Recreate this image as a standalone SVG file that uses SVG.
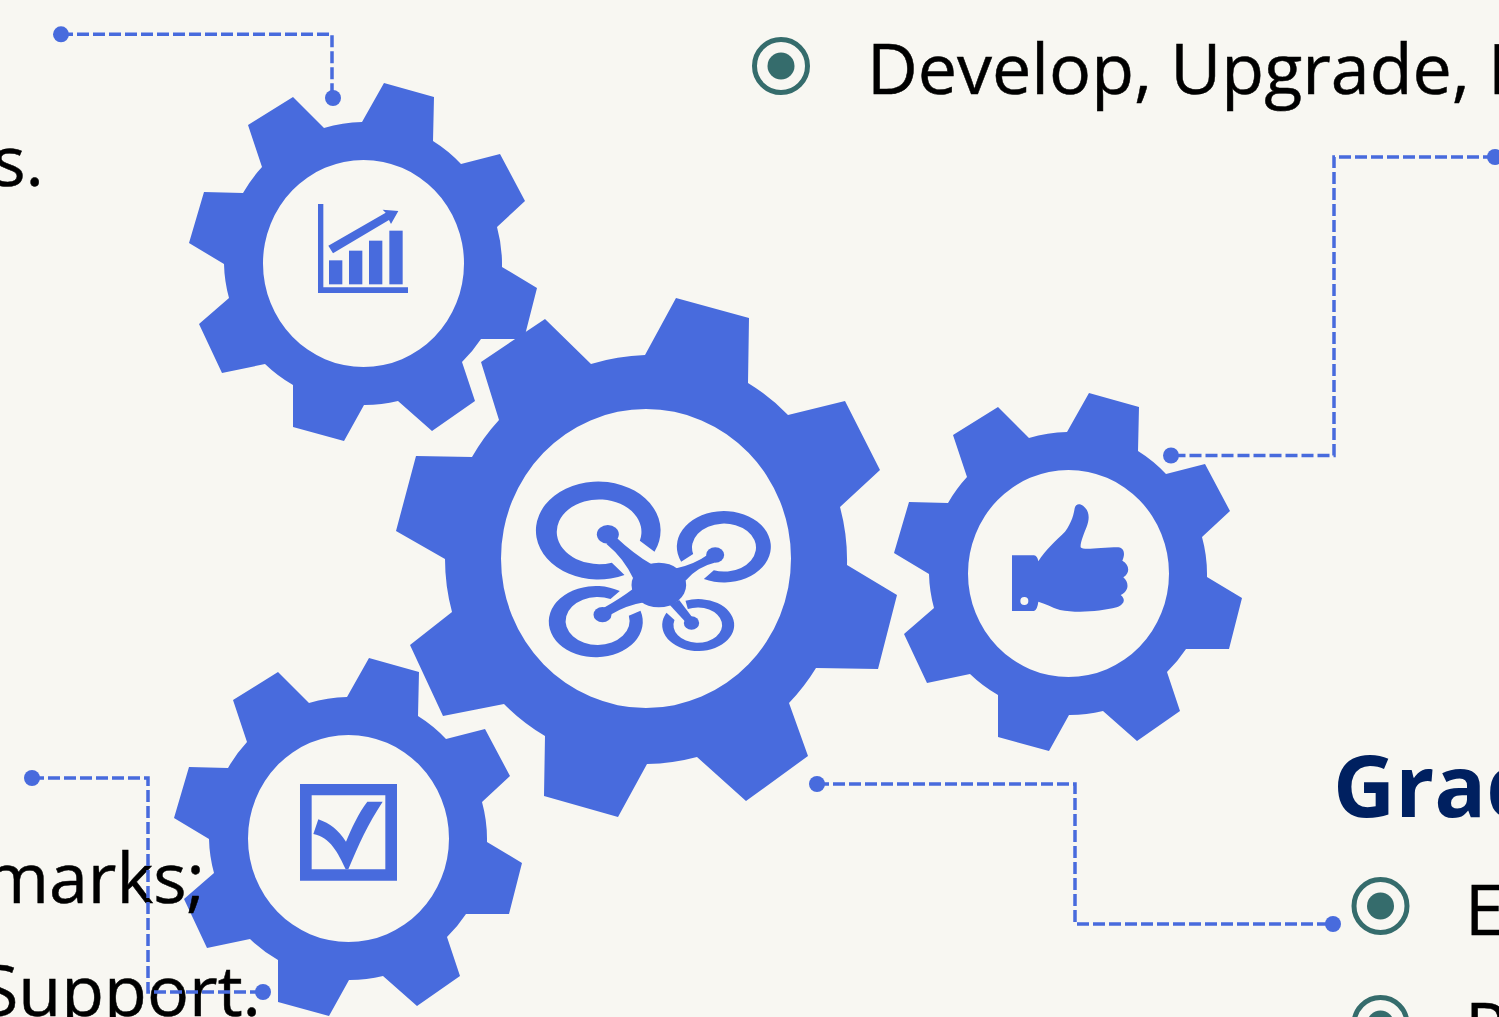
<svg xmlns="http://www.w3.org/2000/svg" xmlns:xlink="http://www.w3.org/1999/xlink" width="1499" height="1017" viewBox="0 0 1499 1017">
<style>
.bl{fill:#486bdd}
.t{font-family:"Open Sans","Noto Sans",sans-serif;font-size:70px;fill:#000;stroke:#000;stroke-width:.5}
.h{font-family:"Open Sans","Noto Sans",sans-serif;font-size:86px;font-weight:700;fill:#002060}
.c{fill:none;stroke:#486bdd;stroke-width:3.500;stroke-dasharray:12 4}
.d{fill:#486bdd}
.r{fill:none;stroke:#356c6c;stroke-width:5}
.ri{fill:#356c6c}
</style>
<defs>
<path id="gear" fill-rule="evenodd" d="M293 97L324 128A140 140 0 0 1 362 122L384 83L434 97L433 141A140 140 0 0 1 461 164L500 154L525 201L497 227A140 140 0 0 1 502 267L537 288L524 339L481 339A140 140 0 0 1 462 362L475 401L432 431L398 401A140 140 0 0 1 364 405L344 441L293 427L293 385A140 140 0 0 1 265 364L222 373L199 324L229 298A140 140 0 0 1 224 264L189 243L204 192L243 193A140 140 0 0 1 262 167L248 125ZM263 263.500A100.500 103.500 0 1 0 464 263.500A100.500 103.500 0 1 0 263 263.500Z"/>
</defs>
<rect width="1499" height="1017" fill="#f8f7f2"/>
<g id="gear-chart">
<use xlink:href="#gear" href="#gear" class="bl"/>
<g class="bl" transform="translate(290 180) scale(.33333)">
<path d="M84 72H100V322H354V339H84Z"/>
<rect x="117" y="241" width="40" height="72"/><rect x="177" y="212" width="40" height="101"/><rect x="237" y="182" width="40" height="131"/><rect x="298" y="152" width="40" height="161"/>
<path d="M115 197L287 98L278 89L325 93L303 132L297 120L129 220Z"/>
</g>
</g>
<g id="gear-drone">
<path class="bl" fill-rule="evenodd" d="M545 319L591 364A204 204 0 0 1 645 355L676 298L749 318L748 383A204 204 0 0 1 788 415L845 401L880 470L840 507A204 204 0 0 1 847 565L897 595L878 669L816 668A204 204 0 0 1 789 703L808 756L746 801L697 757A204 204 0 0 1 647 764L618 817L544 796L545 736A204 204 0 0 1 504 704L443 716L410 645L452 612A204 204 0 0 1 445 559L396 531L416 456L472 457A204 204 0 0 1 499 420L481 362ZM501 558.500A145 149.500 0 1 0 791 558.500A145 149.500 0 1 0 501 558.500Z"/>
<g class="bl" transform="translate(500.500 450) scale(.33333)">
<path d="M462 305A187 147 0 1 0 372 375L334 338A127 97 0 1 1 418 272Z"/>
<path d="M542 335A141 107 0 1 1 610 387L640 361A96 72 0 1 0 578 312Z"/>
<path d="M358 423A141 107 0 1 0 420 482L385 497A96 72 0 1 1 330 447Z"/>
<path d="M555 452A108 78 0 1 1 498 488L522 510A73 53 0 1 0 562 477Z"/>
<ellipse cx="475" cy="405" rx="82" ry="67"/>
<ellipse cx="322" cy="253" rx="33" ry="28"/><ellipse cx="644" cy="315" rx="27" ry="23"/><ellipse cx="306" cy="494" rx="27" ry="23"/><ellipse cx="573" cy="519" rx="23" ry="20"/>
<path d="M345 260Q400 312 452 342L398 385Q370 325 318 282Z"/>
<path d="M522 356Q580 345 625 312L642 338Q590 350 555 392Z"/>
<path d="M398 416Q360 445 310 473L330 494Q380 465 432 457Z"/>
<path d="M508 465L553 514L574 500L536 450Z"/>
</g>
</g>
<g id="gear-thumb">
<use xlink:href="#gear" href="#gear" class="bl" transform="translate(705 310)"/>
<path class="bl" fill-rule="evenodd" transform="translate(990 490) scale(.33333)" d="M66 196H132Q142 198 145 214C165 180 200 150 225 125C245 100 252 70 254 55C257 40 270 40 280 48C298 62 300 85 290 110C282 130 270 160 272 172C280 182 330 172 385 172C405 175 405 195 397 212C420 225 420 250 400 262C420 280 415 305 392 315C410 330 400 345 380 352C330 365 260 370 210 360C185 352 165 340 145 335Q142 360 132 363H66ZM91 333A12 12 0 1 0 115 333A12 12 0 1 0 91 333Z"/>
</g>
<g id="gear-check">
<use xlink:href="#gear" href="#gear" class="bl" transform="translate(-15 575)"/>
<g class="bl" transform="translate(280 770) scale(.33333)">
<path fill-rule="evenodd" d="M60 42H351V332H60ZM95 76V298H316V76Z"/>
<path d="M115 148L100 192C150 200 175 250 197 298H205C235 225 265 160 308 95H262C235 130 215 175 198 215C175 180 150 160 115 148Z"/>
</g>
</g>
<g id="labels">
<text class="t" x="867" y="94">Develop, Upgrade, I</text>
<text class="t" x="44" y="186" text-anchor="end">s.</text>
<text class="t" x="205" y="903" text-anchor="end">marks;</text>
<text class="t" x="261" y="1016" text-anchor="end">Support.</text>
<text class="h" x="1333" y="817">Grad</text>
<text class="t" x="1465" y="935">E</text>
<text class="t" x="1465" y="1053">P</text>
</g>
<g id="bullets">
<circle class="r" cx="781" cy="66" r="26.500"/><circle class="ri" cx="781" cy="66" r="13.500"/>
<circle class="r" cx="1380.500" cy="906" r="26.500"/><circle class="ri" cx="1380.500" cy="906" r="13.500"/>
<circle class="r" cx="1380.500" cy="1024" r="26.500"/><circle class="ri" cx="1380.500" cy="1024" r="13.500"/>
</g>
<g id="connectors">
<path class="c" d="M61 34.300H332V98"/>
<circle class="d" cx="61" cy="34.300" r="8"/><circle class="d" cx="333" cy="98" r="8"/>
<path class="c" d="M1495 157H1334V455.500H1171"/>
<circle class="d" cx="1495" cy="157" r="8"/><circle class="d" cx="1171" cy="455.500" r="8"/>
<path class="c" d="M817 784H1075V924H1333"/>
<circle class="d" cx="817" cy="784" r="8"/><circle class="d" cx="1333" cy="924" r="8"/>
<path class="c" d="M32 778H148V992H263"/>
<circle class="d" cx="32" cy="778" r="8"/><circle class="d" cx="263" cy="992" r="8"/>
</g>
</svg>
